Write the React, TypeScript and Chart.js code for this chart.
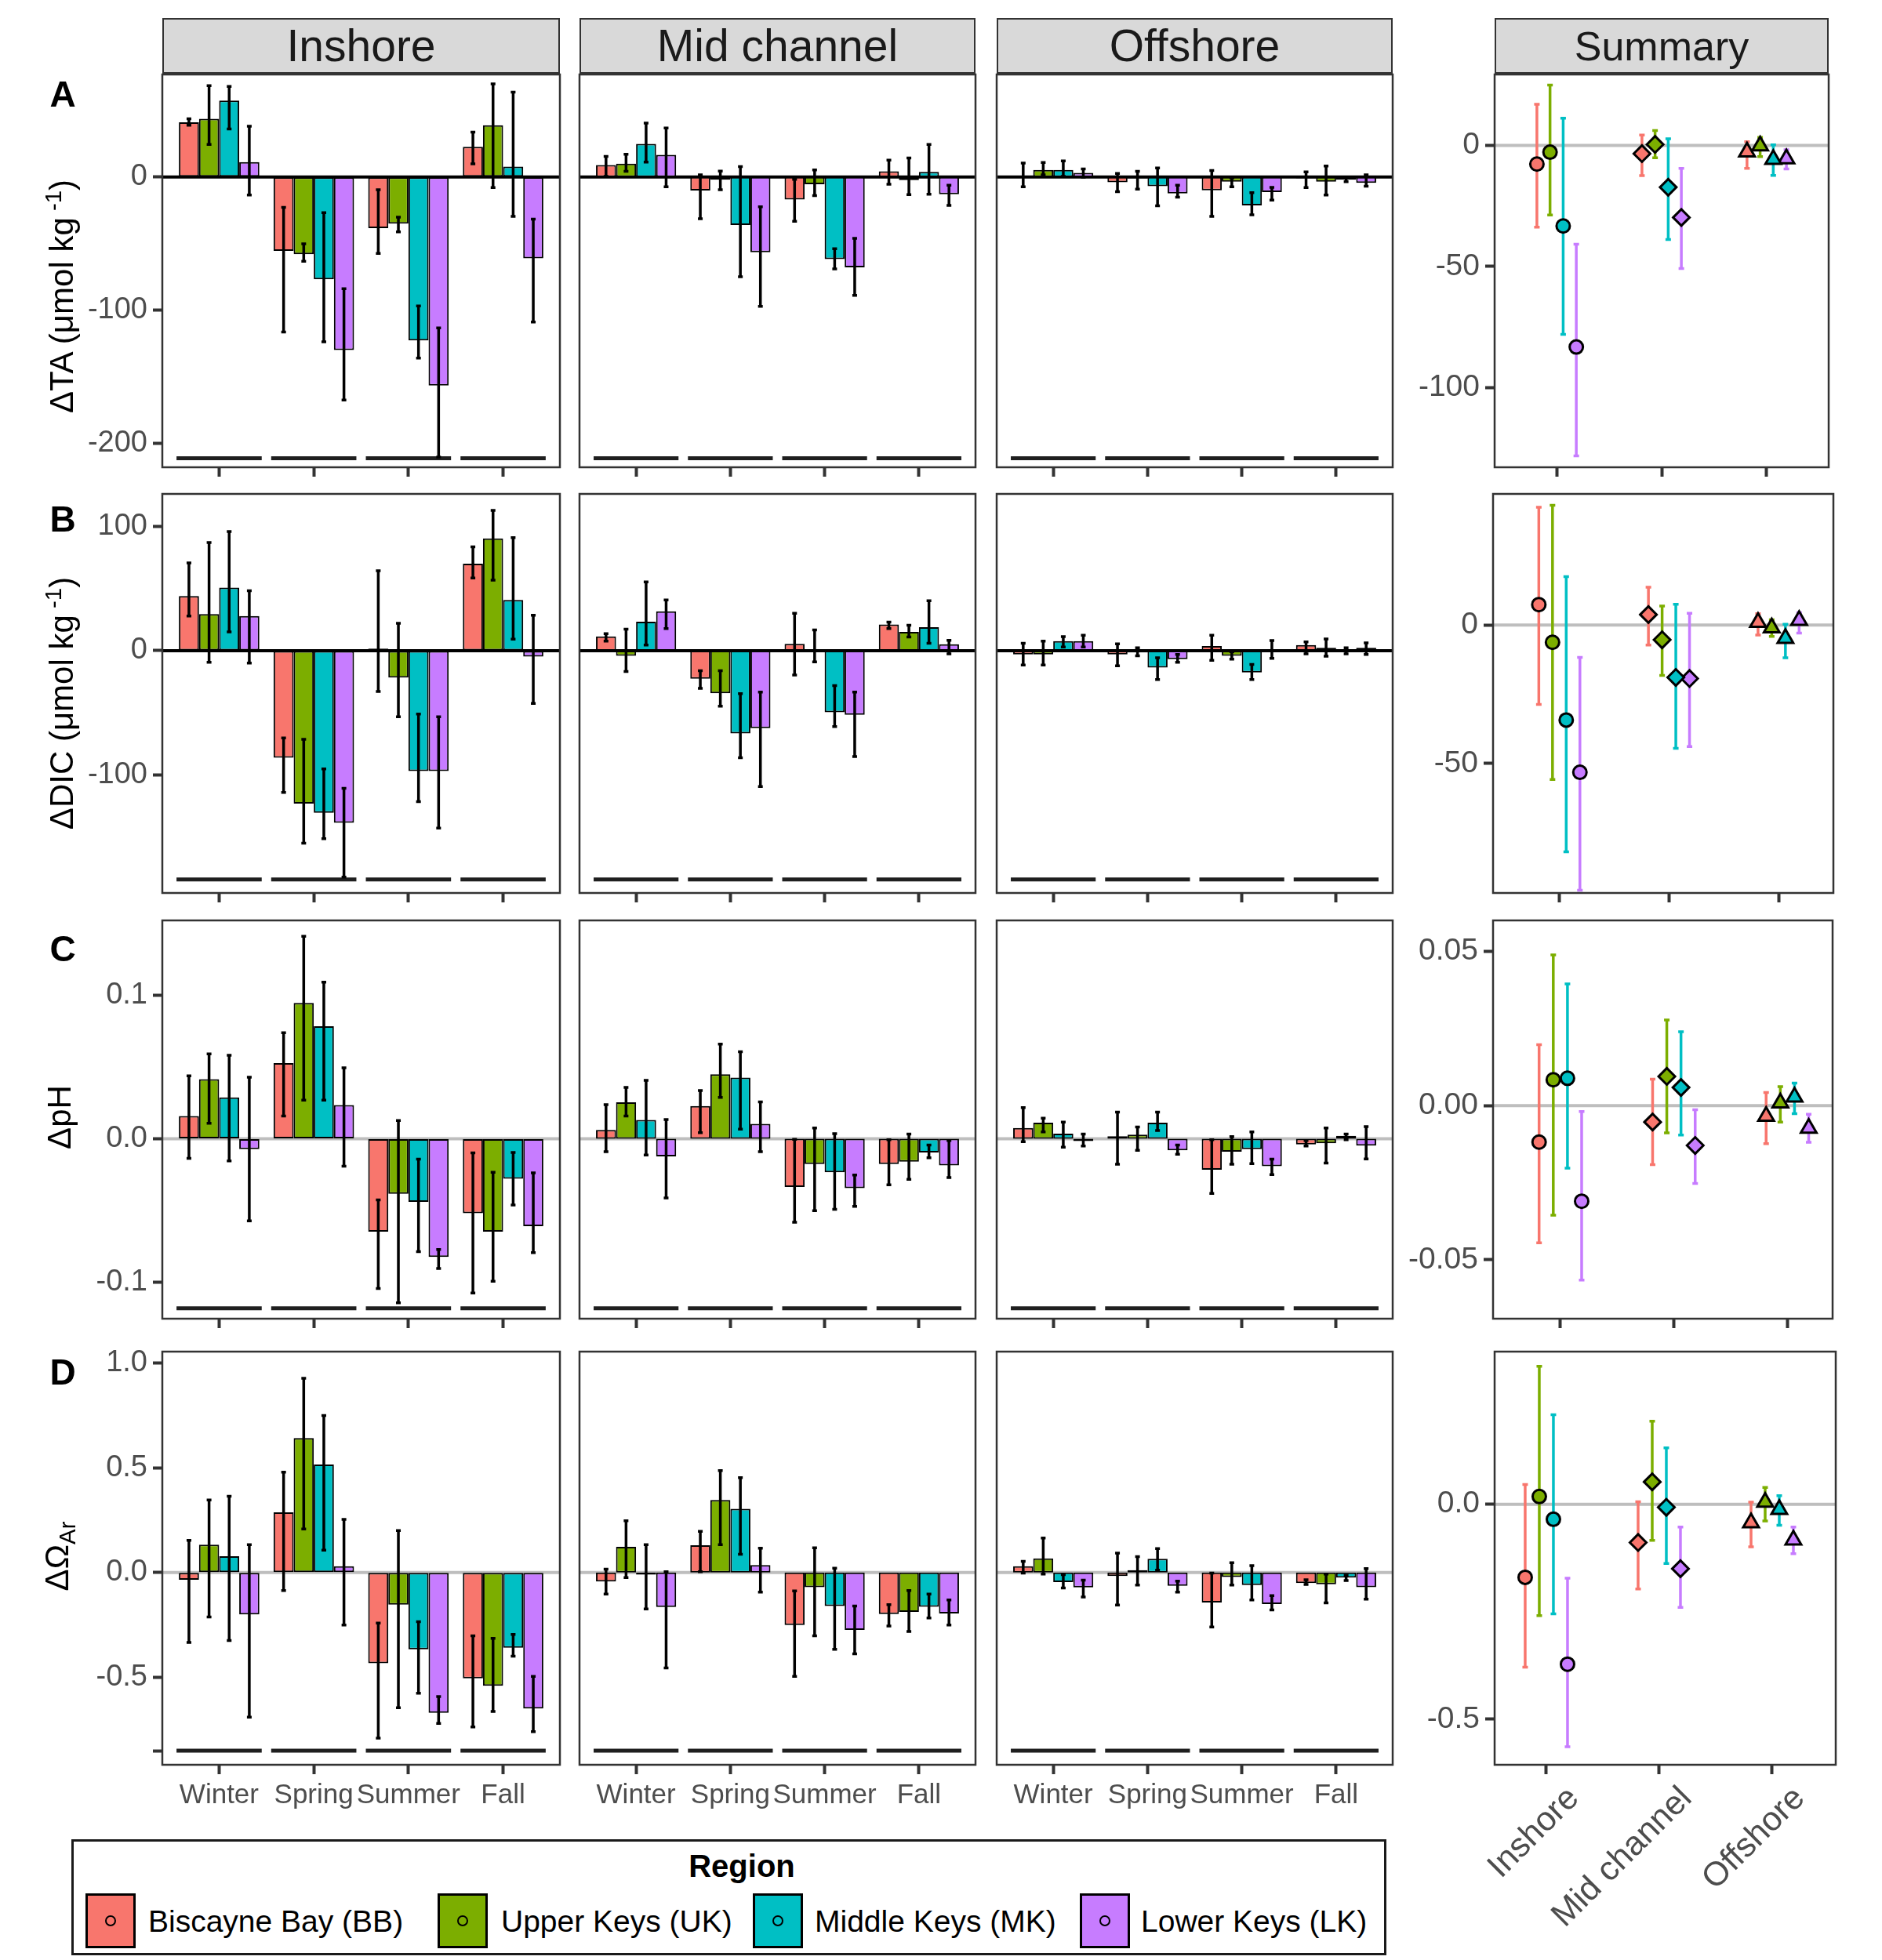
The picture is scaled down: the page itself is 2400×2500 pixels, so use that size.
import React, { useEffect, useRef } from 'react';
import { Chart, registerables } from 'chart.js';

Chart.register(...registerables);

const FONT = "'Liberation Sans', Arial, Helvetica, sans-serif";
Chart.defaults.font.family = FONT;

// ---------- categories ----------
const SEASONS = ['Winter', 'Spring', 'Summer', 'Fall'];
const ZONES = ['Inshore', 'Mid channel', 'Offshore'];
const REGIONS = ['Biscayne Bay (BB)', 'Upper Keys (UK)', 'Middle Keys (MK)', 'Lower Keys (LK)'];
const REGION_COLORS = ['#F8766D', '#7CAE00', '#00BFC4', '#C77CFF'];
const ZONE_SHAPES = ['circle', 'rectRot', 'triangle'];

// ---------- ΔTA bars: [region][season] ----------
const taInMean = [[41.0, -55.4, -38.4, 22.6], [43.7, -57.9, -35.0, 38.8], [57.4, -76.7, -122.6, 7.8], [11.1, -129.9, -156.5, -61.0]];
const taInLo = [[38.8, -116.4, -57.4, 9.8], [24.4, -63.2, -41.2, -8.0], [36.0, -123.7, -135.9, -29.5], [-13.5, -167.4, -210.2, -108.9]];
const taInHi = [[43.7, -22.8, -9.5, 33.7], [68.5, -50.1, -30.2, 69.8], [68.0, -26.8, -96.7, 63.6], [38.1, -83.8, -113.3, -31.7]];
const taMidMean = [[8.9, -10.2, -16.9, 4.2], [10.0, -2.0, -5.5, -2.4], [24.8, -36.1, -61.6, 3.8], [16.6, -56.5, -67.8, -12.9]];
const taMidLo = [[0.4, -31.3, -33.3, -5.5], [4.2, -9.5, -14.0, -13.3], [11.1, -74.9, -69.0, -12.9], [-7.3, -97.1, -88.9, -21.3]];
const taMidHi = [[15.5, 1.6, -1.8, 12.6], [17.1, 4.4, 5.3, 14.2], [40.4, 7.8, -53.9, 24.4], [36.8, -22.4, -46.1, -6.2]];
const taOffMean = [[1.0, -4.0, -10.0, -1.0], [5.3, -1.0, -3.5, -3.5], [5.3, -6.9, -21.3, -2.0], [3.1, -12.4, -11.3, -4.4]];
const taOffLo = [[-7.3, -11.1, -29.5, -8.0], [1.6, -9.1, -7.3, -13.5], [0.4, -21.7, -28.4, -3.5], [-0.2, -15.1, -17.3, -6.9]];
const taOffHi = [[10.4, 2.7, 4.9, 3.8], [10.9, 4.2, -0.7, 8.2], [12.0, 6.7, -11.8, -0.5], [6.0, -6.2, -7.8, 1.6]];
// ΔTA summary: [region][zone]
const taSumMean = [[-7.7, -3.4, -2.7], [-2.8, 0.4, -0.2], [-33.3, -17.3, -5.8], [-83.3, -29.8, -5.5]];
const taSumLo = [[-33.8, -12.5, -9.5], [-28.8, -5.1, -4.6], [-78.1, -38.9, -12.4], [-128.3, -50.9, -9.7]];
const taSumHi = [[17.0, 4.3, 1.5], [24.9, 6.1, 3.3], [11.2, 2.7, 0.2], [-40.8, -9.5, -1.8]];

// ---------- ΔDIC ----------
const dicInMean = [[43.9, -86.1, 1.7, 69.9], [29.4, -123.0, -21.7, 90.2], [50.7, -130.3, -96.8, 40.7], [27.9, -138.4, -96.8, -4.7]];
const dicInLo = [[27.9, -113.9, -32.8, 58.4], [-9.4, -154.8, -53.1, 56.7], [15.1, -151.2, -121.3, 9.2], [-10.0, -182.1, -142.6, -42.4]];
const dicInHi = [[70.6, -70.1, 64.2, 83.4], [87.0, -71.2, 22.0, 112.8], [95.7, -95.1, -51.0, 90.8], [48.2, -110.7, -53.1, 28.4]];
const dicMidMean = [[11.5, -22.6, 5.5, 21.1], [-4.1, -34.3, 1.0, 15.1], [23.2, -66.5, -49.5, 18.8], [31.6, -62.3, -51.6, 5.1]];
const dicMidLo = [[7.7, -30.3, -19.6, 17.7], [-16.8, -44.6, -9.0, 10.9], [4.5, -86.1, -61.0, 6.0], [17.7, -109.2, -85.1, -2.6]];
const dicMidHi = [[13.6, -16.2, 30.1, 23.0], [17.3, -16.2, 16.6, 20.5], [55.2, -34.5, -28.1, 40.1], [40.7, -33.3, -33.3, 8.3]];
const dicOffMean = [[-3.0, -3.0, 3.8, 4.5], [-3.0, -1.5, -4.1, 2.3], [7.7, -13.6, -17.5, 1.0], [7.7, -6.8, 0.0, 2.3]];
const dicOffLo = [[-11.5, -12.2, -7.7, -2.6], [-11.5, -4.1, -6.8, -4.5], [3.0, -23.2, -23.2, -2.6], [3.0, -9.4, -6.2, -3.0]];
const dicOffHi = [[6.0, 5.5, 12.4, 7.0], [7.7, 2.3, -0.9, 9.4], [11.3, -5.8, -11.1, 2.3], [12.4, -3.0, 8.1, 6.2]];
const dicSumMean = [[7.4, 3.8, 1.0], [-6.2, -5.3, -1.0], [-34.3, -18.9, -4.8], [-53.2, -19.3, 1.7]];
const dicSumLo = [[-28.7, -7.2, -3.6], [-55.8, -18.2, -4.1], [-81.9, -44.5, -11.8], [-95.8, -43.9, -2.9]];
const dicSumHi = [[42.6, 13.7, 4.1], [43.3, 6.9, 1.9], [17.5, 7.5, 0.3], [-11.7, 4.3, 4.5]];

// ---------- ΔpH ----------
const phInMean = [[0.0158, 0.0526, -0.0647, -0.0518], [0.0415, 0.0945, -0.0384, -0.0647], [0.0287, 0.0783, -0.0439, -0.0279], [-0.0072, 0.0235, -0.0822, -0.0608]];
const phInLo = [[-0.0136, 0.0158, -0.1042, -0.1074], [0.0107, 0.0268, -0.1142, -0.0991], [-0.0154, 0.0268, -0.0785, -0.0461], [-0.0572, -0.0191, -0.0903, -0.0792]];
const phInHi = [[0.0438, 0.0737, -0.0425, -0.0099], [0.059, 0.1408, 0.0127, -0.0233], [0.0581, 0.109, -0.0142, -0.0096], [0.0428, 0.0494, -0.077, -0.0237]];
const phMidMean = [[0.0061, 0.0228, -0.0335, -0.0176], [0.0254, 0.0449, -0.0176, -0.016], [0.0131, 0.0425, -0.0233, -0.0096], [-0.0123, 0.0103, -0.0344, -0.0186]];
const phMidLo = [[-0.009, 0.0042, -0.0581, -0.032], [0.0158, 0.0287, -0.05, -0.0283], [-0.0114, 0.0066, -0.0491, -0.0132], [-0.0412, -0.009, -0.0471, -0.027]];
const phMidHi = [[0.0237, 0.0336, -0.0004, -0.0007], [0.0357, 0.0658, 0.0075, 0.0033], [0.0406, 0.0605, 0.0035, -0.0044], [0.0134, 0.0256, -0.0252, -0.0013]];
const phOffMean = [[0.0075, 0.0017, -0.0215, -0.004], [0.0112, 0.0029, -0.009, -0.0031], [0.0035, 0.0112, -0.0072, 0.002], [-0.0017, -0.0081, -0.0191, -0.0048]];
const phOffLo = [[-0.002, -0.0178, -0.0381, -0.005], [0.0048, -0.0081, -0.0178, -0.0169], [-0.0059, 0.0057, -0.0173, -0.0007], [-0.005, -0.0108, -0.025, -0.014]];
const phOffHi = [[0.0217, 0.0186, -0.0007, -0.0013], [0.0143, 0.0081, 0.0015, 0.0075], [0.0116, 0.0186, 0.0048, 0.0033], [0.0033, -0.0044, -0.0142, 0.0085]];
const phSumMean = [[-0.0118, -0.0053, -0.0034], [0.0084, 0.0095, 0.0009], [0.0089, 0.0059, 0.0028], [-0.031, -0.0129, -0.0073]];
const phSumLo = [[-0.0445, -0.0191, -0.0123], [-0.0355, -0.0088, -0.0053], [-0.0203, -0.0095, -0.0026], [-0.0566, -0.0252, -0.0119]];
const phSumHi = [[0.0198, 0.0086, 0.0043], [0.0489, 0.0278, 0.0062], [0.0395, 0.024, 0.0073], [-0.0019, -0.0013, -0.0028]];

// ---------- ΔΩAr ----------
const oarInMean = [[-0.034, 0.287, -0.433, -0.505], [0.133, 0.642, -0.153, -0.54], [0.078, 0.515, -0.366, -0.359], [-0.2, 0.03, -0.669, -0.649]];
const oarInLo = [[-0.334, -0.086, -0.79, -0.737], [-0.212, 0.208, -0.645, -0.663], [-0.324, 0.107, -0.576, -0.399], [-0.69, -0.25, -0.72, -0.759]];
const oarInHi = [[0.154, 0.479, -0.241, -0.302], [0.346, 0.927, 0.2, -0.314], [0.364, 0.749, -0.234, -0.295], [0.133, 0.254, -0.592, -0.495]];
const oarMidMean = [[-0.043, 0.13, -0.25, -0.198], [0.123, 0.346, -0.07, -0.188], [-0.01, 0.304, -0.16, -0.163], [-0.164, 0.036, -0.274, -0.195]];
const oarMidLo = [[-0.103, 0.004, -0.495, -0.255], [-0.024, 0.133, -0.302, -0.281], [-0.174, 0.087, -0.366, -0.217], [-0.455, -0.093, -0.388, -0.25]];
const oarMidHi = [[0.016, 0.197, -0.088, -0.153], [0.247, 0.486, 0.118, -0.086], [0.133, 0.453, 0.021, -0.103], [0.004, 0.116, -0.16, -0.131]];
const oarOffMean = [[0.03, -0.017, -0.143, -0.05], [0.068, 0.011, -0.021, -0.056], [-0.046, 0.066, -0.06, -0.024], [-0.071, -0.063, -0.15, -0.07]];
const oarOffLo = [[-0.003, -0.155, -0.26, -0.057], [-0.007, -0.06, -0.06, -0.145], [-0.074, 0.011, -0.131, -0.038], [-0.117, -0.093, -0.178, -0.127]];
const oarOffHi = [[0.054, 0.093, -0.003, -0.034], [0.165, 0.076, 0.047, -0.007], [-0.01, 0.114, 0.033, -0.013], [-0.036, -0.041, -0.11, 0.019]];
const oarSumMean = [[-0.17, -0.089, -0.043], [0.018, 0.052, 0.005], [-0.035, -0.007, -0.012], [-0.372, -0.15, -0.083]];
const oarSumLo = [[-0.379, -0.197, -0.099], [-0.259, -0.084, -0.039], [-0.255, -0.138, -0.049], [-0.564, -0.24, -0.115]];
const oarSumHi = [[0.046, 0.006, 0.005], [0.321, 0.193, 0.039], [0.208, 0.131, 0.02], [-0.172, -0.053, -0.053]];

// ---------- tick values and labels ----------
const taTicks = [0, -100, -200];
const taTickLabels = ['0', '-100', '-200'];
const dicTicks = [100, 0, -100];
const dicTickLabels = ['100', '0', '-100'];
const phTicks = [0.1, 0, -0.1];
const phTickLabels = ['0.1', '0.0', '-0.1'];
const oarTicks = [1, 0.5, 0, -0.5, -0.85];
const oarTickLabels = ['1.0', '0.5', '0.0', '-0.5', ''];
const taSumTicks = [0, -50, -100];
const taSumTickLabels = ['0', '-50', '-100'];
const dicSumTicks = [0, -50];
const dicSumTickLabels = ['0', '-50'];
const phSumTicks = [0.05, 0, -0.05];
const phSumTickLabels = ['0.05', '0.00', '-0.05'];
const oarSumTicks = [0, -0.5];
const oarSumTickLabels = ['0.0', '-0.5'];

// ---------- layout / style ----------
const BAR_LEFT = [207, 739, 1271];
const BAR_RIGHT = [714, 1244, 1776];
const AXIS_LEFT = 95;
const SUM_AXIS_LEFT = 1780;
const PAD = 4;
const TICK_COLOR = '#4D4D4D';
const ZONE_RADII = [8.5, 10.5, 11.5];
const DODGE = 0.5;

const ROWS: any[] = [
  {
    letter: 'A', letterY: 120, titleY: 378,
    title: <>ΔTA (μmol kg<sup style={{ fontSize: '70%' }}> -1</sup>)</>,
    top: 95, bottom: 596, yMin: -217.8, yMax: 76.9, ticks: taTicks, labels: taTickLabels, dash: -211, zero: '#000000',
    bars: [[taInMean, taInLo, taInHi], [taMidMean, taMidLo, taMidHi], [taOffMean, taOffLo, taOffHi]],
    sum: [taSumMean, taSumLo, taSumHi], sMin: -133, sMax: 29.3, sTicks: taSumTicks, sLabels: taSumTickLabels,
    sLeft: 1906, sRight: 2332, sxMin: 0.41, sxMax: 3.59, xLabels: false,
  },
  {
    letter: 'B', letterY: 662, titleY: 897,
    title: <>ΔDIC (μmol kg<sup style={{ fontSize: '70%' }}> -1</sup>)</>,
    top: 630, bottom: 1139, yMin: -194.8, yMax: 126, ticks: dicTicks, labels: dicTickLabels, dash: -184, zero: '#000000',
    bars: [[dicInMean, dicInLo, dicInHi], [dicMidMean, dicMidLo, dicMidHi], [dicOffMean, dicOffLo, dicOffHi]],
    sum: [dicSumMean, dicSumLo, dicSumHi], sMin: -96.8, sMax: 47.4, sTicks: dicSumTicks, sLabels: dicSumTickLabels,
    sLeft: 1904, sRight: 2338, sxMin: 0.395, sxMax: 3.5, xLabels: false,
  },
  {
    letter: 'C', letterY: 1210, titleY: 1425,
    title: <>ΔpH</>,
    top: 1174, bottom: 1682, yMin: -0.1252, yMax: 0.1519, ticks: phTicks, labels: phTickLabels, dash: -0.118, zero: '#BEBEBE',
    bars: [[phInMean, phInLo, phInHi], [phMidMean, phMidLo, phMidHi], [phOffMean, phOffLo, phOffHi]],
    sum: [phSumMean, phSumLo, phSumHi], sMin: -0.0691, sMax: 0.0601, sTicks: phSumTicks, sLabels: phSumTickLabels,
    sLeft: 1904, sRight: 2337, sxMin: 0.407, sxMax: 3.398, xLabels: false,
  },
  {
    letter: 'D', letterY: 1750, titleY: 1985,
    title: <>ΔΩ<sub style={{ fontSize: '70%' }}>Ar</sub></>,
    top: 1724, bottom: 2251, yMin: -0.917, yMax: 1.054, ticks: oarTicks, labels: oarTickLabels, dash: -0.85, zero: '#BEBEBE',
    bars: [[oarInMean, oarInLo, oarInHi], [oarMidMean, oarMidLo, oarMidHi], [oarOffMean, oarOffLo, oarOffHi]],
    sum: [oarSumMean, oarSumLo, oarSumHi], sMin: -0.606, sMax: 0.355, sTicks: oarSumTicks, sLabels: oarSumTickLabels,
    sLeft: 1906, sRight: 2341, sxMin: 0.542, sxMax: 3.5625, xLabels: true,
  },
];

function labelFor(ticks: number[], labels: string[], v: number) {
  const i = ticks.findIndex((t) => Math.abs(t - v) < 1e-9);
  return i >= 0 ? labels[i] : '';
}

const borderPlugin = {
  id: 'panelBorder',
  afterDraw(chart: any) {
    const { ctx, chartArea: a } = chart;
    ctx.save();
    ctx.strokeStyle = '#333333';
    ctx.lineWidth = 2.5;
    ctx.strokeRect(a.left, a.top, a.right - a.left, a.bottom - a.top);
    ctx.restore();
  },
};

function yScaleOpts(min: number, max: number, ticks: number[], labels: string[], show: boolean, axisW: number, fontSize: number) {
  return {
    type: 'linear',
    display: show,
    min, max, bounds: 'data',
    afterBuildTicks: (ax: any) => { ax.ticks = ticks.slice().sort((a, b) => a - b).map((v) => ({ value: v })); },
    afterFit: (ax: any) => { ax.width = axisW; ax.paddingTop = 0; ax.paddingBottom = 0; },
    ticks: {
      autoSkip: false, padding: 7, color: TICK_COLOR,
      font: { size: fontSize, family: FONT },
      callback: (v: number) => labelFor(ticks, labels, v),
    },
    grid: { display: true, drawOnChartArea: false, drawTicks: true, tickLength: 12, tickWidth: 4, tickColor: '#333333', offset: false },
    border: { display: false },
  };
}

function xScaleOpts(cats: string[], min: number, max: number, show: boolean, bottomH: number, fontSize: number, rot: number, labelOffset: number) {
  return {
    type: 'linear',
    min, max, bounds: 'data', offset: false,
    afterBuildTicks: (ax: any) => { ax.ticks = cats.map((_, i) => ({ value: i + 1 })); },
    afterFit: (ax: any) => { ax.height = bottomH; ax.paddingLeft = 0; ax.paddingRight = 0; },
    ticks: {
      autoSkip: false, padding: 6, color: TICK_COLOR, maxRotation: rot, minRotation: rot, labelOffset,
      font: { size: fontSize, family: FONT },
      callback: (_v: number, i: number) => (show ? cats[i] : ''),
    },
    grid: { display: true, drawOnChartArea: false, drawTicks: true, tickLength: 12, tickWidth: 4, tickColor: '#333333', offset: false },
    border: { display: false },
  };
}

function BarPanel({ row, z }: any) {
  const ref = useRef<HTMLCanvasElement | null>(null);
  const left = BAR_LEFT[z];
  const right = BAR_RIGHT[z];
  const showY = z === 0;
  const canvasLeft = showY ? AXIS_LEFT : left - PAD;
  const padL = showY ? 0 : PAD;
  const axisW = showY ? left - AXIS_LEFT : 0;
  const bottomH = row.xLabels ? 75 : 14;
  const canvasTop = row.top - PAD;
  const w = right + PAD - canvasLeft;
  const h = row.bottom + bottomH - canvasTop;
  const [mean, lo, hi] = row.bars[z];

  useEffect(() => {
    const deco = {
      id: 'barDeco',
      beforeDatasetsDraw(chart: any) {
        const { ctx, chartArea: a } = chart;
        const xs = chart.scales.x;
        const ys = chart.scales.y;
        ctx.save();
        const y0 = ys.getPixelForValue(0);
        ctx.strokeStyle = row.zero;
        ctx.lineWidth = 4;
        ctx.beginPath();
        ctx.moveTo(a.left, y0);
        ctx.lineTo(a.right, y0);
        ctx.stroke();
        ctx.strokeStyle = '#1f1f1f';
        ctx.lineWidth = 5;
        const yd = ys.getPixelForValue(row.dash);
        SEASONS.forEach((_, j) => {
          ctx.beginPath();
          ctx.moveTo(xs.getPixelForValue(j + 1 - 0.45), yd);
          ctx.lineTo(xs.getPixelForValue(j + 1 + 0.45), yd);
          ctx.stroke();
        });
        ctx.restore();
      },
      afterDatasetsDraw(chart: any) {
        const { ctx } = chart;
        const ys = chart.scales.y;
        ctx.save();
        ctx.strokeStyle = '#000000';
        ctx.lineWidth = 3.5;
        chart.data.datasets.forEach((_: any, i: number) => {
          const meta = chart.getDatasetMeta(i);
          meta.data.forEach((el: any, j: number) => {
            const yl = ys.getPixelForValue(lo[i][j]);
            const yh = ys.getPixelForValue(hi[i][j]);
            ctx.beginPath();
            ctx.moveTo(el.x, yl);
            ctx.lineTo(el.x, yh);
            ctx.moveTo(el.x - 3, yl);
            ctx.lineTo(el.x + 3, yl);
            ctx.moveTo(el.x - 3, yh);
            ctx.lineTo(el.x + 3, yh);
            ctx.stroke();
          });
        });
        ctx.restore();
      },
    };
    const chart = new Chart(ref.current as HTMLCanvasElement, {
      type: 'bar',
      data: {
        datasets: REGIONS.map((name, i) => ({
          label: name,
          data: SEASONS.map((_, j) => ({ x: j + 1, y: mean[i][j] })),
          backgroundColor: REGION_COLORS[i],
          borderColor: '#000000',
          borderWidth: 2,
          borderSkipped: false,
          categoryPercentage: 0.85,
          barPercentage: 1,
        })),
      } as any,
      options: {
        responsive: false,
        maintainAspectRatio: false,
        animation: false,
        devicePixelRatio: 1,
        events: [],
        layout: { autoPadding: false, padding: { left: padL, top: PAD, right: PAD, bottom: 0 } },
        plugins: { legend: { display: false }, tooltip: { enabled: false }, title: { display: false } },
        scales: {
          x: xScaleOpts(SEASONS, 0.4, 4.6, row.xLabels, bottomH, 35, 0, 0),
          y: yScaleOpts(row.yMin, row.yMax, row.ticks, row.labels, showY, axisW, 38),
        },
      } as any,
      plugins: [deco, borderPlugin],
    });
    return () => chart.destroy();
  }, []);

  return (
    <canvas ref={ref} width={w} height={h}
      style={{ position: 'absolute', left: canvasLeft, top: canvasTop, width: w, height: h }} />
  );
}

function SummaryPanel({ row }: any) {
  const ref = useRef<HTMLCanvasElement | null>(null);
  const canvasLeft = SUM_AXIS_LEFT;
  const axisW = row.sLeft - SUM_AXIS_LEFT;
  const bottomH = row.xLabels ? 2500 - row.bottom : 14;
  const canvasTop = row.top - PAD;
  const w = row.sRight + PAD - canvasLeft;
  const h = row.bottom + bottomH - canvasTop;
  const [mean, lo, hi] = row.sum;

  useEffect(() => {
    const deco = {
      id: 'sumDeco',
      beforeDatasetsDraw(chart: any) {
        const { ctx, chartArea: a } = chart;
        const ys = chart.scales.y;
        ctx.save();
        const y0 = ys.getPixelForValue(0);
        ctx.strokeStyle = '#BEBEBE';
        ctx.lineWidth = 4;
        ctx.beginPath();
        ctx.moveTo(a.left, y0);
        ctx.lineTo(a.right, y0);
        ctx.stroke();
        chart.data.datasets.forEach((_: any, i: number) => {
          const meta = chart.getDatasetMeta(i);
          ctx.strokeStyle = REGION_COLORS[i];
          ctx.lineWidth = 3.5;
          meta.data.forEach((el: any, k: number) => {
            const yl = ys.getPixelForValue(lo[i][k]);
            const yh = ys.getPixelForValue(hi[i][k]);
            ctx.beginPath();
            ctx.moveTo(el.x, yl);
            ctx.lineTo(el.x, yh);
            ctx.moveTo(el.x - 3.5, yl);
            ctx.lineTo(el.x + 3.5, yl);
            ctx.moveTo(el.x - 3.5, yh);
            ctx.lineTo(el.x + 3.5, yh);
            ctx.stroke();
          });
        });
        ctx.restore();
      },
    };
    const chart = new Chart(ref.current as HTMLCanvasElement, {
      type: 'scatter',
      data: {
        datasets: REGIONS.map((name, i) => ({
          label: name,
          data: ZONES.map((_, k) => ({ x: k + 1 + (i - (REGIONS.length - 1) / 2) * (DODGE / REGIONS.length), y: mean[i][k] })),
          pointStyle: ZONE_SHAPES,
          pointRadius: ZONE_RADII,
          pointBackgroundColor: REGION_COLORS[i],
          pointBorderColor: '#000000',
          pointBorderWidth: 3,
          showLine: false,
        })),
      } as any,
      options: {
        responsive: false,
        maintainAspectRatio: false,
        animation: false,
        devicePixelRatio: 1,
        events: [],
        layout: { autoPadding: false, padding: { left: 0, top: PAD, right: PAD, bottom: 0 } },
        plugins: { legend: { display: false }, tooltip: { enabled: false }, title: { display: false } },
        scales: {
          x: xScaleOpts(ZONES, row.sxMin, row.sxMax, row.xLabels, bottomH, 43, 45, 35),
          y: yScaleOpts(row.sMin, row.sMax, row.sTicks, row.sLabels, true, axisW, 39),
        },
      } as any,
      plugins: [deco, borderPlugin],
    });
    return () => chart.destroy();
  }, []);

  return (
    <canvas ref={ref} width={w} height={h}
      style={{ position: 'absolute', left: canvasLeft, top: canvasTop, width: w, height: h }} />
  );
}

const STRIPS = [
  { label: ZONES[0], left: BAR_LEFT[0], right: BAR_RIGHT[0], size: 57 },
  { label: ZONES[1], left: BAR_LEFT[1], right: BAR_RIGHT[1], size: 57 },
  { label: ZONES[2], left: BAR_LEFT[2], right: BAR_RIGHT[2], size: 57 },
  { label: 'Summary', left: 1906, right: 2332, size: 52 },
];

const LEGEND_KEY_LEFT = [15, 464, 866, 1283];
const LEGEND_LABEL_LEFT = [95, 545, 945, 1361];

export default function App() {
  return (
    <div style={{ position: 'absolute', left: 0, top: 0, width: 2400, height: 2500, background: '#ffffff', fontFamily: FONT, overflow: 'hidden' }}>
      {ROWS.map((row) => (
        <React.Fragment key={row.letter}>
          {[0, 1, 2].map((z) => <BarPanel key={z} row={row} z={z} />)}
          <SummaryPanel row={row} />
        </React.Fragment>
      ))}

      {STRIPS.map((s) => (
        <div key={s.label} style={{
          position: 'absolute', left: s.left, top: 23, width: s.right - s.left, height: 71,
          boxSizing: 'border-box', background: '#D9D9D9', border: '2px solid #333333',
          display: 'flex', alignItems: 'center', justifyContent: 'center',
          fontSize: s.size, lineHeight: 1, color: '#1A1A1A',
        }}>{s.label}</div>
      ))}

      {ROWS.map((row) => (
        <React.Fragment key={'t' + row.letter}>
          <div style={{ position: 'absolute', left: 80, top: row.letterY, transform: 'translate(-50%, -50%)', fontSize: 46, fontWeight: 'bold', lineHeight: 1, color: '#000' }}>{row.letter}</div>
          <div style={{ position: 'absolute', left: 76, top: row.titleY, transform: 'translate(-50%, -50%) rotate(-90deg)', fontSize: 42, lineHeight: 1, whiteSpace: 'nowrap', color: '#000' }}>{row.title}</div>
        </React.Fragment>
      ))}

      <div style={{ position: 'absolute', left: 91, top: 2346, width: 1677, height: 148, boxSizing: 'border-box', border: '3px solid #1a1a1a', background: '#fff' }}>
        <div style={{ position: 'absolute', left: 852, top: 31, transform: 'translate(-50%, -50%)', fontSize: 40, fontWeight: 'bold', lineHeight: 1 }}>Region</div>
        {REGIONS.map((name, i) => (
          <React.Fragment key={name}>
            <div style={{ position: 'absolute', left: LEGEND_KEY_LEFT[i], top: 66, width: 64, height: 70, boxSizing: 'border-box', background: REGION_COLORS[i], border: '3px solid #000' }}>
              <div style={{ position: 'absolute', left: '50%', top: '50%', width: 14, height: 14, transform: 'translate(-50%, -50%)', boxSizing: 'border-box', border: '2px solid #000', borderRadius: '50%' }} />
            </div>
            <div style={{ position: 'absolute', left: LEGEND_LABEL_LEFT[i], top: 101, transform: 'translateY(-50%)', fontSize: 39, lineHeight: 1, whiteSpace: 'nowrap' }}>{name}</div>
          </React.Fragment>
        ))}
      </div>
    </div>
  );
}
